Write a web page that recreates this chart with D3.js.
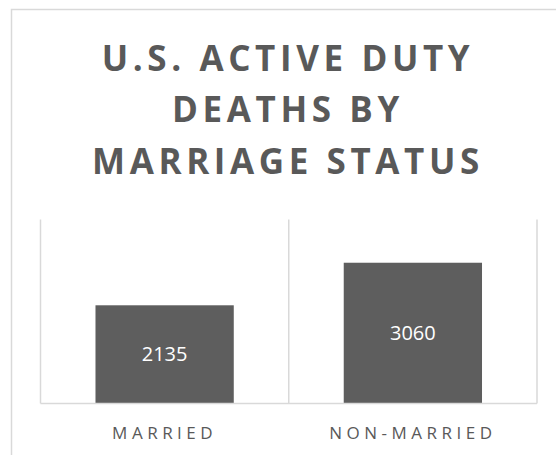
<!DOCTYPE html>
<html>
<head>
<meta charset="utf-8">
<script src="https://cdn.jsdelivr.net/npm/d3@7"></script>
<style>
  html, body { margin: 0; padding: 0; background: #ffffff; }
  svg { display: block; }
</style>
</head>
<body>
<svg id="chart" width="556" height="455"></svg>
<script>
// Chart data
const categories = ["MARRIED", "NON-MARRIED"];
const deaths = [2135, 3060];
const titleLines = ["U.S. ACTIVE DUTY", "DEATHS BY", "MARRIAGE STATUS"];
const yDomain = [0, 4000];

const svg = d3.select("#chart");
const ink = "#595959";
const grid = "#d9d9d9";

// Outer chart frame (extends past the right and bottom edges)
svg.append("rect")
  .attr("x", 11.5).attr("y", 9.5)
  .attr("width", 560).attr("height", 460)
  .attr("fill", "#ffffff")
  .attr("stroke", grid).attr("stroke-width", 1.5);

// Title
const title = svg.append("text")
  .attr("text-anchor", "middle")
  .attr("font-family", "'Open Sans', sans-serif")
  .attr("font-weight", "bold")
  .attr("font-size", 35)
  .attr("letter-spacing", 4.6)
  .attr("fill", ink);
titleLines.forEach((t, i) => {
  title.append("tspan")
    .attr("x", 288)
    .attr("y", 70.5 + i * 51.5)
    .text(t);
});

// Plot area
const plot = { left: 40.5, right: 537, top: 219.5, bottom: 403.5 };
const gap = 0.443;

const x = d3.scaleBand()
  .domain(categories)
  .range([plot.left, plot.right])
  .paddingInner(gap)
  .paddingOuter(gap / 2);

const y = d3.scaleLinear()
  .domain(yDomain)
  .range([plot.bottom, plot.top]);

// Vertical category gridlines at band boundaries
const step = x.step();
const bounds = categories.map(c => x(c) - step * gap / 2);
bounds.push(bounds[bounds.length - 1] + step);
svg.append("g")
  .selectAll("line")
  .data(bounds)
  .join("line")
  .attr("x1", d => d).attr("x2", d => d)
  .attr("y1", plot.top).attr("y2", plot.bottom)
  .attr("stroke", grid).attr("stroke-width", 1.5);

// Bars
svg.append("g")
  .selectAll("rect")
  .data(categories)
  .join("rect")
  .attr("x", c => x(c))
  .attr("width", x.bandwidth())
  .attr("y", (c, i) => y(deaths[i]))
  .attr("height", (c, i) => y(0) - y(deaths[i]))
  .attr("fill", "#5e5e5e");

// Value labels centred inside the bars
svg.append("g")
  .selectAll("text")
  .data(categories)
  .join("text")
  .attr("x", c => x(c) + x.bandwidth() / 2)
  .attr("y", (c, i) => (y(deaths[i]) + y(0)) / 2)
  .attr("dy", "0.35em")
  .attr("text-anchor", "middle")
  .attr("font-family", "'Open Sans', sans-serif")
  .attr("font-size", 20)
  .attr("fill", "#ffffff")
  .text((c, i) => deaths[i]);

// Category axis
const xAxis = svg.append("g")
  .attr("transform", `translate(0,${plot.bottom})`)
  .call(d3.axisBottom(x).tickSize(0).tickPadding(0));
xAxis.select(".domain")
  .attr("d", `M${plot.left},0H${plot.right}`)
  .attr("stroke", grid).attr("stroke-width", 1.5);
xAxis.selectAll(".tick text")
  .attr("y", 35)
  .attr("dy", 0)
  .attr("font-family", "'Open Sans', sans-serif")
  .attr("font-size", 17)
  .attr("letter-spacing", 4.5)
  .attr("fill", ink);
</script>
</body>
</html>
